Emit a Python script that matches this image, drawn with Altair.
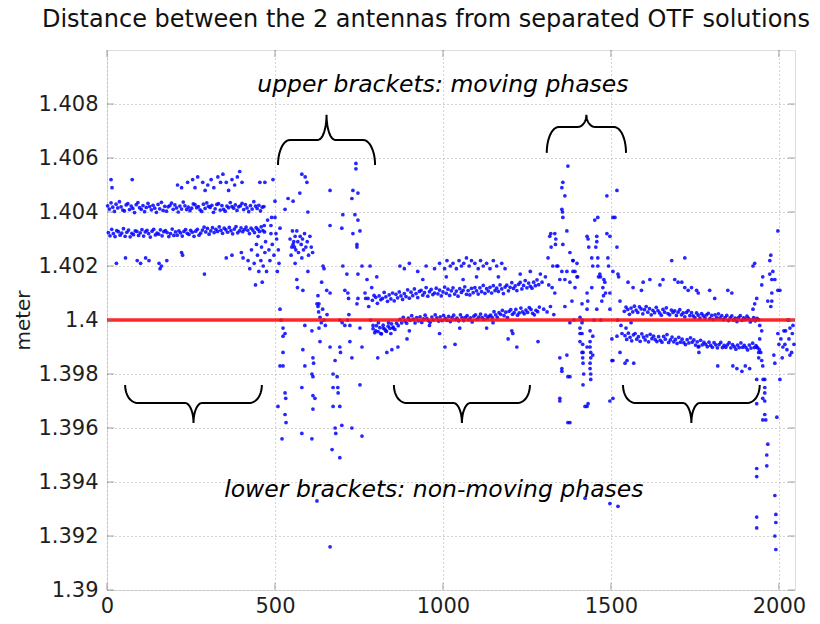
import altair as alt
import pandas as pd
import numpy as np

# ---------------- data (values in 0.1 mm above 1.39 m) ----------------
STEP = 5
# non-moving phase 1 : two bands
a_up_x0 = 2
a_up = [142.3,141.1,143.4,141.8,140.2,142.9,141.5,143.8,141.9,140.7,
        140.4,142.6,143.1,140.9,142.2,141.3,139.8,142.7,143.5,141.6,
        141.0,142.4,140.1,141.7,143.2,142.0,140.8,142.5,141.4,139.9,
        142.8,141.2,143.6,140.6,142.1,140.3,141.9,142.4,143.3,141.0,
        142.6,141.5,140.0,142.2,141.1,143.7,142.3,140.9,141.8,140.5,
        141.4,143.0,142.7,141.6,142.0,140.8,140.2,142.9,141.3,143.4,
        142.1,141.7,142.5,139.9,141.2,142.8,143.1,140.7,142.4,141.0,
        140.3,142.2,141.6,143.5,142.0,141.4,142.6,140.6,141.9,142.3,
        143.2,140.9,142.7,141.5,140.1,142.4,141.1,143.8,142.2,141.3,
        142.5,140.4,141.8,142.0]
a_lo_x0 = 4
a_lo = [132.4,131.2,133.6,132.0,130.9,133.1,132.7,131.4,132.2,133.8,
        131.0,132.5,133.3,130.8,132.1,131.6,133.0,132.8,131.3,132.3,
        133.5,131.1,132.6,133.2,132.0,130.7,132.9,133.6,131.5,132.2,
        131.8,133.4,131.2,132.7,133.1,132.4,130.9,132.0,133.7,131.3,
        132.6,131.4,133.0,132.3,131.1,132.8,133.5,132.1,131.7,133.2,
        132.5,131.0,132.9,133.6,131.4,132.2,133.3,134.4,132.6,133.9,
        131.8,133.0,134.2,132.4,133.6,132.8,134.5,133.2,132.1,134.0,
        133.4,132.5,134.3,133.1,131.9,133.7,134.6,132.3,133.0,134.1,
        132.7,133.5,134.4,133.2,132.0,134.0,133.3,132.4,134.2,133.6,
        132.8,134.5,133.1,132.6]
a_sparse = [(12,152),(15,149),(75,152),(210,150),(222,149),(240,151),(255,152),(262,149),
            (270,153),(285,151),(292,148),(300,150),(310,152),(318,149),(330,153),(338,151),
            (345,154),(355,151),(362,148),(372,152),(380,150),(388,153),(395,155),(402,151),
            (455,151),(470,151),
            (28,121),(55,123),(90,122),(100,121),(115,123),(125,122),(155,121),(158,119),
            (162,120),(178,122),(222,125),(225,124),(290,117),(355,123),(372,124),(400,125),
            (405,123),(420,122),(425,119),(430,126),(438,121),(442,113),(448,124),(452,118),
            (458,122),(462,114),(465,120),(470,125),(475,118),
            (445,128),(450,131),(460,127),(468,135),(472,129),(478,137),(482,126),(488,132),
            (490,138),(485,122)]

# moving phase 1
b_pts = [(494,152),(500,144),(500,138),(503,132),(488,135),(492,128),(497,124),(505,130),
         (510,126),(512,121),(507,118),(515,134),
         (530,141),(539,145),(554,144),(580,154),(590,153),(595,151),(574,147),(598,140),
         (545,130),(550,127),(554,128),(556,129),(558,127),(560,131),(562,126),(565,133),
         (568,129),(570,125),(575,131),(578,128),(582,130),(585,126),(588,132),(592,127),
         (596,129),(600,124),(604,131),(608,127),(612,125),(552,133),(548,124),
         (664,148),(664,135),(702,139),(699,134),(729,145),(732,148),(741,158),(741,156),
         (747,147),(747,137),(753,133),(732,132),(744,128),(744,127),(738,139),
         (560,121),(580,123),(598,118),(565,115),(567,112),(583,111),(643,120),(646,119),
         (654,111),(639,114),(664,110),(628,109),(628,105),(631,106),(702,120),(714,117),
         (708,111),(717,110),(719,108),(747,117),(759,120),(774,115),(783,120),(788,112),
         (803,116),(747,108),(768,110),(770,108),(744,106),(777,108),(779,105),
         (515,104),(518,100),(524,97),(530,95),(625,106),(630,103),(634,101),(638,99),
         (642,104),(646,100),(650,98),(655,102),(589,98),(610,96),(631,97),(693,100),
         (700,99),(708,98),(716,100),(723,98),(720,102),(753,97),(785,100),(792,98),
         (800,96),(808,99),(815,95),(822,97),(830,96),(838,99),(845,95),(851,97),
         (524,94),(524,88),(524,83),(515,83),(530,73),(532,71),(509,68),(530,65),(533,62),
         (521,56),(583,89),(613,86),(615,84),(610,80),(613,79),(580,75),(589,83),(613,72),
         (619,71),(613,67),(610,56),(580,58),(634,92),(664,90),(679,85),(693,90),(695,88),
         (673,80),(673,75),(685,79),(687,75),(688,73),(673,68),(693,68),(679,60),(681,58),
         (699,61),(729,60),(670,52),(693,49),(759,57),(753,76),(729,86),(723,92),(759,90),
         (806,86),(833,88),(848,89),(866,90),(893,93),(625,33),(664,16)]

# non-moving phase 2
c_up_x0 = 790
c_up = [107.3,109.1,108.4,106.2,108.9,107.5,108.0,110.2,108.6,106.9,
        109.3,107.8,110.0,107.1,109.5,108.2,110.4,108.9,107.6,109.8,
        108.7,111.2,108.1,110.3,109.0,111.5,109.8,108.3,110.6,111.0,
        109.2,110.1,112.0,108.8,110.5,111.3,109.4,110.0,111.8,109.7,
        111.1,108.9,110.4,112.2,109.9,111.4,109.1,110.8,111.9,109.6,
        110.7,108.8,111.6,110.2,111.0,112.3,109.5,110.9,109.3,111.7,
        110.1,112.0,110.8,109.6,111.9,110.5,112.8,109.9,111.6,110.7,
        112.1,110.0,112.7,110.9,111.8,110.6,113.0,111.5,109.8,112.2,
        112.9,110.8,112.1,113.8,111.7,112.6,110.9,113.2,113.9,111.5,
        112.8,114.6,111.9,113.7,112.5,111.8,114.0,112.7,114.9,113.1]
c_lo_x0 = 792
c_lo = [96.8,95.3,97.9,95.7,97.2,94.9,98.1,96.6,95.8,97.7,96.9,98.6,97.4,96.5,98.8,97.9,
        100.2,98.9,101.0,99.6,98.8,100.7,99.9,101.6,100.3,98.9,100.9,99.7,101.2,99.1,
        100.4,101.8,100.6,99.8,99.2,101.1,100.0,101.9,100.8,99.6,
        101.2,99.8,101.7,100.6,99.9,101.3,99.4,100.9,101.8,100.2,
        100.7,99.7,101.9,100.9,99.8,101.0,101.6,100.1,100.8,99.3,
        101.4,101.9,100.3,101.1,102.2,100.9,100.2,101.8,100.7,101.3,
        101.8,100.9,103.1,101.9,101.0,102.7,102.1,103.6,101.6,102.9,
        100.9,103.2,103.8,102.1,102.7,103.9,101.8,102.6,104.4,103.0,
        102.3,103.7,102.8,104.6,103.9,102.5,101.9,103.6,103.1,104.8]
c_sparse = [(872,120),(885,119),(900,121),(925,118),(950,120),(975,119),(990,121),(1005,119),
            (1012,122),(1022,120),(1030,121),(1040,119),(1048,122),(1055,120),(1062,121),
            (1070,123),(1078,120),(1085,122),(1095,121),(1105,119),(1112,122),(1120,120),
            (1130,121),(1140,119),(1150,122),(1160,120),(1175,121),(1185,119),
            (940,115),(1010,116),(1060,115),(1100,116),(1165,116),(1230,117),(1260,118),(1290,117),
            (1006,90),(1194,93),(1205,96),(1208,95),(1220,90),(1283,92),(1149,99),(1050,97),
            (990,95),(1130,97),(900,96),(960,98),(1036,91)]

# moving phase 2
d_pts = [(1295,114),(1300,104),(1305,116),(1310,103),(1315,113),(1320,105),(1325,112),(1330,102),
         (1372,157),(1357,151),(1354,149),(1363,146),(1354,141),(1356,140),(1369,133),(1357,138),
         (1333,132),(1336,130),(1335,128),(1357,128),(1313,123),(1327,120),(1339,120),(1354,118),
         (1378,125),(1387,122),(1387,118),(1399,116),(1378,114),(1393,112),(1384,107),(1414,106),
         (1363,105),(1432,130),(1434,127),(1429,131),(1461,138),(1458,131),(1455,127),(1443,123),
         (1461,120),(1467,117),(1469,116),(1482,114),(1484,110),(1491,123),(1493,120),(1488,132),
         (1518,148),(1512,138),(1518,127),(1506,118),(1521,117),(1523,116),(1497,110),(1473,107),
         (1527,107),(1443,112),(1429,104),(1458,104),(1408,101),(1378,99),(1497,104),
         (1414,99),(1414,95),(1416,91),(1414,88),(1416,86),(1408,95),(1438,96),(1438,92),
         (1440,88),(1438,84),(1440,80),(1429,90),(1446,87),(1354,82),(1378,79),(1369,87),
         (1348,71),(1423,68),(1432,69),(1378,62),(1506,71),(1503,85),(1518,94),(1533,95),
         (1423,34),(1497,32),(1521,31),(1429,110),(1431,107),
         (1318,131),(1321,132),(1322,127),(1342,120),(1348,115),(1333,110),(1363,115),(1348,86),
         (1354,81),(1372,79),(1348,70),(1372,62),(1429,68),(1417,88),(1417,84),(1419,80),
         (1417,76),(1438,90),(1440,86),(1438,82),(1440,78),(1446,94),(1408,97),(1408,92),
         (1503,93),(1506,85),(1497,70),(1488,146),(1506,138),(1497,131),(1452,137),(1458,129),
         (1446,120),(1461,123),(1463,116),(1476,112),(1478,109),(1479,115),(1399,121),(1401,116),
         (1387,122),(1393,118),(1369,118),(1415,100),(1450,100),(1470,100),(1520,100),(1390,100)]

# non-moving phase 3
e_up_x0 = 1540
e_up = [103.2,104.8,103.9,102.1,104.4,103.0,105.1,103.7,102.8,104.9,
        104.1,102.3,103.8,105.0,102.9,104.2,101.9,103.6,102.7,104.7,
        103.5,102.6,101.8,103.9,102.9,104.5,102.4,101.9,103.7,102.8,
        103.4,101.7,102.9,103.8,101.9,102.6,101.2,102.8,103.5,101.6,
        102.7,101.5,100.9,102.6,101.8,100.7,102.4,101.6,100.8,101.9,
        102.5,100.6,101.7,100.2,101.9,100.9,102.3,100.8,101.6,100.1,
        100.9,101.7,99.8,100.8,101.5,100.0,100.7,99.4,100.9,101.6,
        99.9,100.8,100.2,101.4,100.6,99.3,100.0,100.9,99.7,100.6,100.1]
e_lo_x0 = 1542
e_lo = [94.2,92.8,95.1,93.6,92.3,94.5,95.0,92.9,93.8,92.1,
        94.9,93.7,92.6,94.1,91.9,94.7,93.1,94.0,92.7,92.0,
        93.8,92.5,91.8,93.9,92.9,94.6,91.7,92.6,93.7,91.9,
        92.8,91.3,93.6,91.8,92.9,91.6,90.9,92.7,91.5,93.4,
        91.8,92.6,90.7,91.9,90.2,92.5,90.8,91.7,91.0,90.1,
        91.8,90.6,89.9,91.6,90.8,89.7,90.9,91.7,89.8,90.6,
        89.9,90.8,91.6,89.7,90.9,90.1,89.2,90.7,89.8,91.5,
        89.9,90.6,89.8,88.9,90.7,89.6,91.4,89.8,90.5,89.7,89.0]
e_sparse = [(1551,114),(1566,112),(1591,111),(1596,114),(1616,115),(1646,113),(1655,115),
            (1690,115),(1700,114),(1711,114),(1720,112),(1730,111),(1740,112),(1755,111),
            (1760,110),(1794,111),(1809,108),(1848,111),(1860,110),(1681,122),(1720,123),
            (1542,84),(1548,85),(1568,84),(1863,83),(1875,82),(1890,81),(1900,83),(1913,82),
            (1818,83),(1760,90),(1762,88),(1527,88),(1530,98),(1545,97),(1560,99)]

# moving phase 3
f_pts = [(1997,133),(1973,122),(1976,124),(1982,118),(1973,117),(1988,115),(1952,116),(1949,113),
         (1923,120),(1934,108),(1928,106),(1923,104),(1967,107),(1976,105),(1997,111),(1943,98),
         (1949,96),(1943,93),(1940,88),(1949,85),(1952,83),(1958,78),(1958,75),(1952,71),
         (1958,65),(1952,63),(1967,54),(1964,50),(1964,46),(1934,45),(1934,42),(1934,27),
         (1988,35),(1991,28),(1991,25),(1988,20),(1991,15),(1994,64),(2003,78),(1988,84),
         (1985,87),(1997,95),(2006,93),(2012,90),(2018,91),(2024,89),(2030,93),(2033,87),
         (2000,91),(2020,96),(2033,97),(2030,100),(2015,96),(1934,90),(1940,86),(1946,88),
         (1934,78),(1953,78),(1958,73),(1958,70),(1961,63),(1934,69),(1934,23),(1979,115),
         (1979,110),(1979,107),(2003,111),(1928,121),(2027,100),(2040,95),(2045,91),(2038,88),
         (2010,86),(2042,98)]

x_ticks = [0, 500, 1000, 1500, 2000]
y_ticks = [1.39, 1.392, 1.394, 1.396, 1.398, 1.4, 1.402, 1.404, 1.406, 1.408]
reference_value = 1.4

title_text = "Distance between the 2 antennas from separated OTF solutions"
ann_text = ["upper brackets: moving phases", "lower brackets: non-moving phases"]
ann_x = [1000, 973]
ann_y = [1.4087, 1.3937]

# brackets: start epoch, end epoch, end level, bar level, tip level
br_x0 = [509, 1309, 54, 854, 1536]
br_x1 = [798, 1545, 461, 1259, 1943]
br_end = [1.40574, 1.40619, 1.39759, 1.39759, 1.39759]
br_bar = [1.40667, 1.40715, 1.39693, 1.39693, 1.39693]
br_tip = [1.40760, 1.40760, 1.39619, 1.39619, 1.39619]

# ---------------- build tables ----------------
rows = []
for x0, vals in [(a_up_x0, a_up), (a_lo_x0, a_lo), (c_up_x0, c_up), (c_lo_x0, c_lo),
                 (e_up_x0, e_up), (e_lo_x0, e_lo)]:
    for i, v in enumerate(vals):
        rows.append((x0 + i * STEP, v))
for lst in [a_sparse, b_pts, c_sparse, d_pts, e_sparse, f_pts]:
    rows.extend(lst)
pts = pd.DataFrame(rows, columns=["epoch", "v"])
pts["dist"] = 1.39 + pts["v"] / 10000.0

def brace_path(x0, x1, ye, yb, yt, r_end=36, r_tip=26, n=12):
    xc = (x0 + x1) / 2.0
    t = np.linspace(0, np.pi / 2, n)
    half = []
    for tt in t:
        half.append((x0 + r_end * (1 - np.cos(tt)), ye + (yb - ye) * np.sin(tt)))
    for tt in t:
        half.append((xc - r_tip + r_tip * np.sin(tt), yb + (yt - yb) * (1 - np.cos(tt))))
    right = [(2 * xc - x, y) for (x, y) in reversed(half)]
    return half + right

br_rows = []
for k in range(len(br_x0)):
    for j, (x, y) in enumerate(brace_path(br_x0[k], br_x1[k], br_end[k], br_bar[k], br_tip[k])):
        br_rows.append({"b": k, "o": j, "bx": x, "by": y})
br_df = pd.DataFrame(br_rows)

ann_df = pd.DataFrame({"t": ann_text, "ax": ann_x, "ay": ann_y})
yt_df = pd.DataFrame({"yt": y_ticks})
xt_df = pd.DataFrame({"xt": x_ticks})
red_df = pd.DataFrame({"r": [reference_value]})

# ---------------- chart ----------------
FONT = "DejaVu Sans"
xs = alt.Scale(domain=[0, 2048], nice=False, zero=False)
ys = alt.Scale(domain=[1.39, 1.41], nice=False, zero=False)

xaxis = alt.Axis(values=x_ticks, format="d", grid=True, gridDash=[1, 3], gridColor="#a8a8a8",
                 gridWidth=1, ticks=False, domain=False, labelFont=FONT, labelFontSize=21,
                 labelColor="#1e1e1e", labelPadding=5, title=None, labelFlush=False)
yaxis = alt.Axis(values=y_ticks, format="~g", grid=True, gridDash=[1, 3], gridColor="#a8a8a8",
                 gridWidth=1, ticks=False, domain=False, labelFont=FONT, labelFontSize=21,
                 labelColor="#1e1e1e", labelPadding=9, title="meter", titleFont=FONT,
                 titleFontSize=20, titleFontWeight="normal", titleColor="#1e1e1e",
                 titlePadding=4, labelFlush=False)

def X(field):
    return alt.X(field, scale=xs, axis=xaxis)

def Y(field):
    return alt.Y(field, scale=ys, axis=yaxis)

points = alt.Chart(pts).mark_circle(size=14, color="#0000ff", opacity=0.85).encode(
    x=X("epoch:Q"), y=Y("dist:Q"))

red = alt.Chart(red_df).mark_rule(color="#ff1010", strokeWidth=3.5, opacity=0.9).encode(
    y=Y("r:Q"))

braces = alt.Chart(br_df).mark_line(color="black", strokeWidth=2).encode(
    x=X("bx:Q"), y=Y("by:Q"), detail="b:N", order="o:Q")

texts = alt.Chart(ann_df).mark_text(font=FONT, fontSize=23.5, fontStyle="italic",
                                    color="black", align="center", baseline="middle").encode(
    x=X("ax:Q"), y=Y("ay:Q"), text="t:N")

tick_style = dict(color="#7a7a7a", thickness=1)
yt_left = alt.Chart(yt_df).mark_tick(size=7, **tick_style).encode(y=Y("yt:Q"), x=alt.value(3.5))
yt_right = alt.Chart(yt_df).mark_tick(size=7, **tick_style).encode(y=Y("yt:Q"), x=alt.value(684.5))
xt_top = alt.Chart(xt_df).mark_tick(size=7, **tick_style).encode(x=X("xt:Q"), y=alt.value(3.5))
xt_bot = alt.Chart(xt_df).mark_tick(size=7, **tick_style).encode(x=X("xt:Q"), y=alt.value(536.5))

chart = alt.layer(points, red, braces, texts, yt_left, yt_right, xt_top, xt_bot).properties(
    width=688, height=540,
    title=alt.TitleParams(title_text, font=FONT, fontSize=24, fontWeight="normal",
                          color="#111111", anchor="middle", dx=-25, offset=18),
    autosize=alt.AutoSizeParams(type="none"),
    padding={"left": 107, "top": 50, "right": 25, "bottom": 34},
).configure_view(stroke="#808080", strokeWidth=1.5).configure(background="white")

chart.save("out.html", embed_options={"renderer": "svg", "actions": False})
